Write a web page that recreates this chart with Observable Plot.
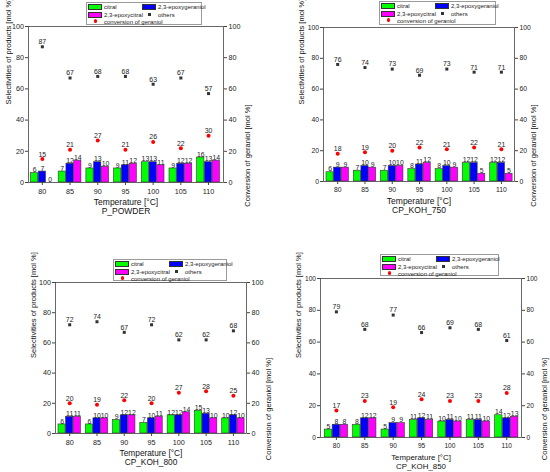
<!DOCTYPE html>
<html><head><meta charset="utf-8">
<script src="https://cdn.jsdelivr.net/npm/d3@7"></script>
<script src="https://cdn.jsdelivr.net/npm/@observablehq/plot@0.6"></script>
<style>
body{margin:0;background:#fff;}
#root{position:relative;width:550px;height:472px;overflow:hidden;font-family:"Liberation Sans",Arial,sans-serif;}
.panel{position:absolute;}
.legend{position:absolute;border:1px solid #9a9a9a;background:#fff;box-sizing:border-box;font-size:6px;color:#222;}
.legend .sw{position:absolute;box-sizing:border-box;border:0.6px solid #333;}
.legend .tx{position:absolute;line-height:6px;height:6px;white-space:nowrap;}
</style></head><body><div id="root"></div>
<script>
// ---- data ----
const temps = [80, 85, 90, 95, 100, 105, 110];
const xTicks = [80, 85, 90, 95, 100, 105, 110];
const yTicks = [0, 20, 40, 60, 80, 100];
const panelNames = ["P_POWDER", "CP_KOH_750", "CP_KOH_800", "CP_KOH_850"];
const seriesNames = ["citral", "2,3-epoxygeraniol", "2,3-epoxycitral", "others", "conversion of geraniol"];

const citral_P_POWDER        = [6, 7, 9, 9, 13, 9, 16];
const epoxygeraniol_P_POWDER = [7, 12, 13, 11, 13, 12, 13];
const epoxycitral_P_POWDER   = [0, 14, 10, 12, 11, 12, 14];
const others_P_POWDER        = [87, 67, 68, 68, 63, 67, 57];
const conversion_P_POWDER    = [15, 21, 27, 21, 26, 22, 30];

const citral_KOH_750        = [6, 7, 7, 8, 8, 12, 12];
const epoxygeraniol_KOH_750 = [9, 10, 10, 11, 10, 12, 12];
const epoxycitral_KOH_750   = [9, 9, 10, 12, 9, 5, 5];
const others_KOH_750        = [76, 74, 73, 69, 73, 71, 71];
const conversion_KOH_750    = [18, 19, 20, 22, 21, 22, 21];

const citral_KOH_800        = [6, 6, 9, 7, 12, 15, 10];
const epoxygeraniol_KOH_800 = [11, 10, 12, 10, 12, 13, 12];
const epoxycitral_KOH_800   = [11, 10, 12, 11, 14, 10, 10];
const others_KOH_800        = [72, 74, 67, 72, 62, 62, 68];
const conversion_KOH_800    = [20, 19, 22, 20, 27, 28, 25];

const citral_KOH_850        = [5, 8, 5, 11, 10, 11, 14];
const epoxygeraniol_KOH_850 = [8, 12, 9, 12, 11, 11, 12];
const epoxycitral_KOH_850   = [8, 12, 9, 11, 10, 10, 13];
const others_KOH_850        = [79, 68, 77, 66, 69, 68, 61];
const conversion_KOH_850    = [17, 23, 19, 24, 23, 23, 28];

// ---- styling / layout ----
const barColors = ["#00ff00", "#0000ff", "#ff00ff"];
const barOffsets = [-1.4, 0, 1.4];
const barWidth = 1.3;

const panels = [
  {name: panelNames[0], bars: [citral_P_POWDER, epoxygeraniol_P_POWDER, epoxycitral_P_POWDER], others: others_P_POWDER, conv: conversion_P_POWDER,
   left: 0, top: 0, mL: 28, mR: 52, mT: 26, mB: 54, xd: [77.5, 112.7], lg: {x: 86, y: 2, w: 116, h: 23}, tick: 7.2, title: 8.5, ylab: 7.5, lDx: -19.5, rDx: 24},
  {name: panelNames[1], bars: [citral_KOH_750, epoxygeraniol_KOH_750, epoxycitral_KOH_750], others: others_KOH_750, conv: conversion_KOH_750,
   left: 275, top: 0, mL: 48, mR: 36, mT: 27, mB: 55, xd: [77.4, 112.4], lg: {x: 104, y: 1, w: 117, h: 24}, tick: 6.8, title: 8.5, ylab: 7.5, lDx: -22, rDx: 19},
  {name: panelNames[2], bars: [citral_KOH_800, epoxygeraniol_KOH_800, epoxycitral_KOH_800], others: others_KOH_800, conv: conversion_KOH_800,
   left: 0, top: 236, mL: 55, mR: 29, mT: 46, mB: 39, xd: [77.4, 112.4], lg: {x: 113, y: 23, w: 114, h: 22}, tick: 7.2, title: 8.3, ylab: 7.5, lDx: -22, rDx: 22},
  {name: panelNames[3], bars: [citral_KOH_850, epoxygeraniol_KOH_850, epoxycitral_KOH_850], others: others_KOH_850, conv: conversion_KOH_850,
   left: 275, top: 236, mL: 45, mR: 29, mT: 42, mB: 35, xd: [77.2, 112.6], lg: {x: 105, y: 18, w: 119, h: 22}, tick: 6.6, title: 7.9, ylab: 7.5, lDx: -22, rDx: 23}
];

const root = document.getElementById("root");

function makeLegend(lg) {
  const d = document.createElement("div");
  d.className = "legend";
  d.style.left = lg.x + "px"; d.style.top = lg.y + "px";
  d.style.width = lg.w + "px"; d.style.height = lg.h + "px";
  const items = [
    {kind: "sw", color: barColors[0], x: 1, y: 1, tx: 17, ty: 1, label: seriesNames[0]},
    {kind: "sw", color: barColors[1], x: 55, y: 1, tx: 71, ty: 1, label: seriesNames[1]},
    {kind: "sw", color: barColors[2], x: 1, y: 8.5, tx: 17, ty: 8.5, label: seriesNames[2]},
    {kind: "sq", color: "#333", x: 61, y: 10.3, tx: 71, ty: 8.5, label: seriesNames[3]},
    {kind: "dot", color: "#ff0000", x: 6.5, y: 16.3, tx: 17, ty: 15.5, label: seriesNames[4]}
  ];
  for (const it of items) {
    const s = document.createElement("div");
    s.style.position = "absolute";
    if (it.kind === "sw") {
      s.className = "sw";
      Object.assign(s.style, {left: it.x + "px", top: it.y + "px", width: "14px", height: "6px", background: it.color});
    } else if (it.kind === "sq") {
      Object.assign(s.style, {left: it.x + "px", top: it.y + "px", width: "2.6px", height: "2.6px", background: it.color});
    } else {
      Object.assign(s.style, {left: it.x + "px", top: it.y + "px", width: "3.6px", height: "3.6px", background: it.color, borderRadius: "50%"});
    }
    d.appendChild(s);
    const t = document.createElement("div");
    t.className = "tx";
    t.textContent = it.label;
    Object.assign(t.style, {left: it.tx + "px", top: it.ty + "px"});
    d.appendChild(t);
  }
  return d;
}

for (const p of panels) {
  const W = 275, H = 236;
  const valFont = 6.9;
  const barMarks = p.bars.flatMap((vals, j) => {
    const rows = temps.map((t, i) => ({t, v: vals[i]}));
    return [
      Plot.rectY(rows, {x1: d => d.t + barOffsets[j] - barWidth / 2, x2: d => d.t + barOffsets[j] + barWidth / 2, y1: 0, y2: d => d.v,
        fill: barColors[j], stroke: "#333", strokeWidth: 0.6}),
      Plot.text(rows, {x: d => d.t + barOffsets[j], y: d => d.v, text: d => String(d.v), lineAnchor: "bottom", dy: -0.8, fontSize: valFont, fill: "#222"})
    ];
  });
  const oRows = temps.map((t, i) => ({t, v: p.others[i]}));
  const cRows = temps.map((t, i) => ({t, v: p.conv[i]}));
  const chart = Plot.plot({
    width: W, height: H,
    marginLeft: p.mL, marginRight: p.mR, marginTop: p.mT, marginBottom: p.mB,
    style: {fontFamily: "'Liberation Sans', Arial, sans-serif", fontSize: p.tick + "px", color: "#222", background: "transparent", overflow: "visible"},
    x: {domain: p.xd, axis: null},
    y: {domain: [0, 100], axis: null},
    marks: [
      ...barMarks,
      Plot.dot(oRows, {x: "t", y: "v", symbol: "square", r: 1.7, fill: "#333", stroke: "none"}),
      Plot.text(oRows, {x: "t", y: "v", text: d => String(d.v), lineAnchor: "bottom", dy: -2.6, fontSize: valFont, fill: "#222"}),
      Plot.dot(cRows, {x: "t", y: "v", r: 2, fill: "#ff0000", stroke: "none"}),
      Plot.text(cRows, {x: "t", y: "v", text: d => String(d.v), lineAnchor: "bottom", dy: -2.6, fontSize: valFont, fill: "#222"}),
      Plot.frame({stroke: "#444", strokeWidth: 0.8}),
      Plot.axisX({ticks: xTicks, tickSize: 3, tickPadding: 3, tickFormat: d => String(d), label: null, fontSize: p.tick, stroke: "#444"}),
      Plot.axisY({anchor: "left", ticks: yTicks, tickSize: 3, tickPadding: 1.5, label: null, fontSize: p.tick, stroke: "#444"}),
      Plot.axisY({anchor: "right", ticks: yTicks, tickSize: 3, tickPadding: 2, label: null, fontSize: p.tick, stroke: "#444"}),
      Plot.text(["Temperature [°C]"], {text: d => d, frameAnchor: "bottom", dy: 20, lineAnchor: "middle", fontSize: p.title, fill: "#111"}),
      Plot.text([p.name], {text: d => d, frameAnchor: "bottom", dy: 29, lineAnchor: "middle", fontSize: p.title, fill: "#111"}),
      Plot.text(["Selectivities of products [mol %]"], {text: d => d, frameAnchor: "left", rotate: -90, dx: p.lDx, lineAnchor: "middle", fontSize: p.ylab, fill: "#111"}),
      Plot.text(["Conversion of geraniol [mol %]"], {text: d => d, frameAnchor: "right", rotate: -90, dx: p.rDx, lineAnchor: "middle", fontSize: p.ylab, fill: "#111"})
    ]
  });
  const wrap = document.createElement("div");
  wrap.className = "panel";
  wrap.style.left = p.left + "px"; wrap.style.top = p.top + "px";
  wrap.style.width = W + "px"; wrap.style.height = H + "px";
  wrap.appendChild(chart);
  wrap.appendChild(makeLegend(p.lg));
  root.appendChild(wrap);
}
</script></body></html>
